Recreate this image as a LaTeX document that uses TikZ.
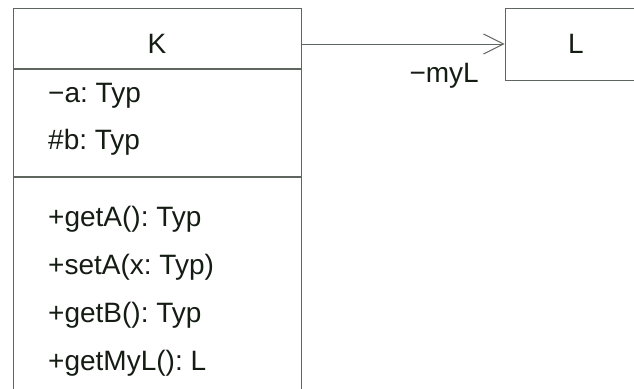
\documentclass[tikz,border=0pt]{standalone}
\usepackage{fontspec}
\setmainfont{Liberation Sans}
\usetikzlibrary{arrows.meta,positioning}
\definecolor{umlline}{RGB}{95,102,95}
\definecolor{umltext}{RGB}{20,28,20}
\frenchspacing

\begin{document}
\begin{tikzpicture}[x=1pt,y=1pt,yscale=-1,xscale=1,
  compartment/.style={draw=umlline, line width=1pt, minimum width=288pt, inner sep=0pt},
  member/.style={anchor=base west, inner sep=0pt, text=umltext, font=\fontsize{28}{33}\selectfont},
  assoc/.style={draw=umlline, line width=1pt, -{Straight Barb[length=20pt,width=20pt,line width=1pt]}}]
\useasboundingbox (0,0) rectangle (634,388);

%Class K [name, attributes, operations]
\node[compartment, minimum height=60pt] (kname) at (157,38) {};
\node[compartment, minimum height=107pt, below=0pt of kname] (kattr) {};
\node[compartment, minimum height=225pt, below=0pt of kattr] (kops) {};
\node[member, anchor=center] (ktitle) at ([yshift=6pt]kname.center) {K};

%Class L
\node[compartment, minimum width=142pt, minimum height=72pt, text=umltext, font=\fontsize{28}{33}\selectfont] (lclass) at (576,44) {L};

%Association K -> L
\draw[assoc] (kname.east |- lclass.west) -- (lclass.west);
% Text Node
\node[member, anchor=base east] (rolel) at (479,82) {−myL};

% Text Node
\node[member] (attra) at (48,102) {−a: Typ};
% Text Node
\node[member] (attrb) at (48,149) {\#b: Typ};
% Text Node
\node[member] (opgeta) at (48,226) {+getA(): Typ};
% Text Node
\node[member] (opseta) at (48,274) {+setA(x: Typ)};
% Text Node
\node[member] (opgetb) at (48,322) {+getB(): Typ};
% Text Node
\node[member] (opgetl) at (48,370) {+getMyL(): L};

\end{tikzpicture}
\end{document}
